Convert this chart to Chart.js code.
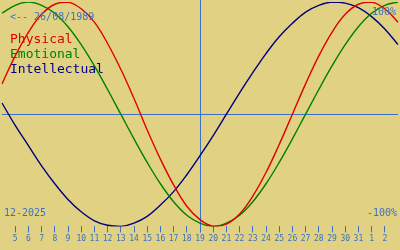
<!DOCTYPE html>
<html>
<head>
<meta charset="utf-8">
<script src="https://cdn.jsdelivr.net/npm/chart.js@4/dist/chart.umd.min.js"></script>
<style>
html,body{margin:0;padding:0;background:#e0d282;}
canvas{display:block;}
</style>
</head>
<body>
<canvas id="c" width="400" height="250"></canvas>
<script>
// Days shown: 4 Dec 2025 .. 3 Jan 2026 (first and last unlabeled)
const dayLabels = ['4','5','6','7','8','9','10','11','12','13','14','15','16','17','18','19','20','21','22','23','24','25','26','27','28','29','30','31','1','2','3'];
const todayIndex = 15; // 19
const physical = [0.27,0.52,0.73,0.89,0.98,1.00,0.94,0.82,0.63,0.40,0.14,-0.14,-0.40,-0.63,-0.82,-0.94,-1.00,-0.98,-0.89,-0.73,-0.52,-0.27,0.00,0.27,0.52,0.73,0.89,0.98,1.00,0.94,0.82];
const emotional = [0.90,0.97,1.00,0.97,0.90,0.78,0.62,0.43,0.22,0.00,-0.22,-0.43,-0.62,-0.78,-0.90,-0.97,-1.00,-0.97,-0.90,-0.78,-0.62,-0.43,-0.22,0.00,0.22,0.43,0.62,0.78,0.90,0.97,1.00];
const intellectual = [0.10,-0.10,-0.28,-0.46,-0.62,-0.76,-0.87,-0.95,-0.99,-1.00,-0.97,-0.91,-0.81,-0.69,-0.54,-0.37,-0.19,0.00,0.19,0.37,0.54,0.69,0.81,0.91,0.97,1.00,0.99,0.95,0.87,0.76,0.62];
const seriesNames = ['Physical','Emotional','Intellectual'];
const birthText = '<-- 26/08/1989';
const monthText = '12-2025';
const topText = '100%';
const bottomText = '-100%';

const BG = '#e0d282';
const AXIS_BLUE = '#3d6fc4';
const colors = ['#e00000','#008000','#000080'];

const overlay = {
  id: 'overlay',
  beforeDraw(chart) {
    const ctx = chart.ctx;
    ctx.save();
    ctx.fillStyle = BG;
    ctx.fillRect(0, 0, chart.width, chart.height);
    ctx.restore();
  },
  beforeDatasetsDraw(chart) {
    const ctx = chart.ctx;
    const xs = chart.scales.x, ys = chart.scales.y;
    const area = chart.chartArea;
    ctx.save();
    ctx.strokeStyle = AXIS_BLUE;
    ctx.lineWidth = 1;
    const y0 = Math.round(ys.getPixelForValue(0)) + 0.5;
    ctx.beginPath();
    ctx.moveTo(area.left, y0);
    ctx.lineTo(area.right, y0);
    ctx.stroke();
    const xt = Math.round(xs.getPixelForValue(todayIndex)) + 0.5;
    ctx.beginPath();
    ctx.moveTo(xt, 0);
    ctx.lineTo(xt, area.bottom + 6);
    ctx.stroke();
    ctx.restore();
  },
  afterDatasetsDraw(chart) {
    const ctx = chart.ctx;
    ctx.save();
    ctx.textBaseline = 'alphabetic';
    ctx.font = '10px "DejaVu Sans Mono"';
    ctx.fillStyle = AXIS_BLUE;
    ctx.textAlign = 'left';
    ctx.fillText(birthText, 10, 20);
    ctx.fillText(monthText, 4, 216);
    ctx.textAlign = 'right';
    ctx.fillText(topText, 396, 15);
    ctx.fillText(bottomText, 397, 216);
    ctx.textAlign = 'left';
    ctx.font = '13px "DejaVu Sans Mono"';
    for (let i = 0; i < seriesNames.length; i++) {
      ctx.fillStyle = colors[i];
      ctx.fillText(seriesNames[i], 10, 43 + i * 15);
    }
    ctx.restore();
  }
};

const mk = (data, color) => ({
  data: data,
  borderColor: color,
  borderWidth: 1.4,
  pointRadius: 0,
  fill: false,
  tension: 0.4
});

new Chart(document.getElementById('c'), {
  type: 'line',
  data: {
    labels: dayLabels,
    datasets: [mk(physical, colors[0]), mk(emotional, colors[1]), mk(intellectual, colors[2])]
  },
  options: {
    responsive: false,
    animation: false,
    events: [],
    layout: { padding: { top: 2, bottom: 4, left: 0, right: 0 } },
    plugins: { legend: { display: false }, tooltip: { enabled: false } },
    scales: {
      x: {
        offset: false,
        border: { display: false },
        grid: {
          drawOnChartArea: false,
          drawTicks: true,
          tickLength: 6,
          color: (c) => (c.index === 0 || c.index === dayLabels.length - 1) ? 'rgba(0,0,0,0)' : AXIS_BLUE
        },
        ticks: {
          autoSkip: false,
          maxRotation: 0,
          padding: 2,
          color: AXIS_BLUE,
          font: { family: 'DejaVu Sans Mono', size: 8 },
          callback: (v, i) => (i === 0 || i === dayLabels.length - 1) ? '' : dayLabels[i]
        }
      },
      y: {
        display: false,
        min: -1,
        max: 1
      }
    }
  },
  plugins: [overlay]
});
</script>
</body>
</html>
